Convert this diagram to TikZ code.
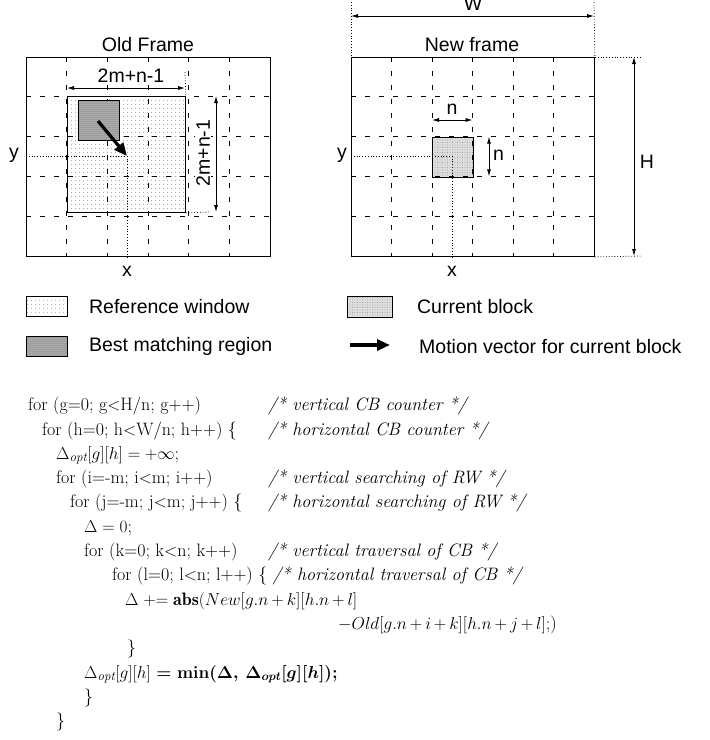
\documentclass[tikz,border=0pt]{standalone}
\usepackage{fontspec}
\setsansfont{Liberation Sans}
\usepackage{amsmath,amssymb}
\usetikzlibrary{arrows.meta,positioning,patterns.meta,calc}
\tikzset{
  lbl/.style={font=\fontsize{19.5}{23}\selectfont\sffamily, inner sep=0pt},
  dimlbl/.style={lbl, fill=white, inner sep=1.5pt},
  frame/.style={draw, line width=0.9pt, minimum width=244, minimum height=199,
                anchor=north west, inner sep=0pt},
  gridln/.style={dash pattern=on 5pt off 9pt, line width=0.7pt},
  guide/.style={dotted, line width=0.8pt},
  dimline/.style={{Latex[length=7pt,width=4pt]}-{Latex[length=7pt,width=4pt]},
                  line width=0.8pt},
  refwin/.style={draw, line width=0.9pt, anchor=north west, inner sep=0pt,
                 preaction={fill=white}, pattern={Dots[distance=4pt,radius=0.5pt]},
                 pattern color=black!60},
  curblk/.style={draw, line width=0.9pt, anchor=north west, inner sep=0pt,
                 preaction={fill=gray!25}, pattern={Dots[distance=2.5pt,radius=0.45pt]},
                 pattern color=black!55},
  bestreg/.style={draw, line width=0.9pt, anchor=north west, inner sep=0pt,
                  preaction={fill=gray!60}, pattern={Dots[distance=2pt,radius=0.5pt]},
                  pattern color=black!70},
  mvec/.style={-{Triangle[length=13pt,width=11pt]}, line width=3.2pt},
  code/.style={font=\fontsize{18}{24.3}\selectfont, align=left,
               inner sep=0pt, anchor=north west}
}
\newcommand\cmt[1]{\textit{/* #1 */}}
\newcommand\codeln[3]{\makebox[240pt][l]{\hspace*{#1}#2}#3}
\newcommand\dopt{\Delta_{\mbox{\fontsize{13}{13}\selectfont$\mathit{opt}$}}}

\begin{document}
\begin{tikzpicture}[x=1pt, y=-1pt, node distance=21pt]
\path[fill=white, use as bounding box] (0,0) rectangle (710,740);

% old frame
\node[refwin, minimum width=118, minimum height=116] (refw) at (67,96) {};
\foreach \gx in {66.7,107.3,148,188.7,229.3}
  \draw[gridln] (\gx,57) -- (\gx,256);
\foreach \gy in {96.8,136.6,176.4,216.2}
  \draw[gridln] (26,\gy) -- (270,\gy);
\node[bestreg, minimum width=41, minimum height=40] (best) at (78,100) {};
\node[frame] (oldf) at (26,57) {};
\node[lbl] (oldt) at (148,45) {Old Frame};
\coordinate (oldp) at (127,156);
\coordinate (mvs) at (98,121);
\draw[guide] (oldf.west |- oldp) -- (oldp) -- (oldp |- oldf.south);
\draw[mvec] (mvs) -- (oldp);
\node[lbl] (oldy) at (14,155) {y};
\node[lbl] (oldx) at (127,271) {x};
% 2m+n-1 dimensions
\coordinate (dwl) at (67,88);
\coordinate (dwr) at (185,88);
\coordinate (dwx) at (185,72);
\draw[guide] (dwx) -- (refw.north east);
\draw[dimline] (dwl) -- (dwr);
\node[dimlbl] (dwt) at (131,76) {2m+n-1};
\coordinate (dht) at (216,96);
\coordinate (dhb) at (216,212);
\coordinate (dhx) at (210,212);
\draw[guide] (refw.south east) -- (dhx);
\draw[dimline] (dht) -- (dhb);
\node[dimlbl, rotate=90] (dhtxt) at (203,153) {2m+n-1};

% new frame
\node[curblk, minimum width=40.5, minimum height=40] (cblk) at (432,136.6) {};
\foreach \gx in {391.5,432,472.5,513,553.5}
  \draw[gridln] (\gx,57) -- (\gx,256);
\foreach \gy in {96.8,136.6,176.4,216.2}
  \draw[gridln] (351,\gy) -- (594,\gy);
\node[frame, minimum width=243] (newf) at (351,57) {};
\node[lbl] (newt) at (472,45) {New frame};
\coordinate (newp) at (452,156);
\draw[guide] (newf.west |- newp) -- (newp) -- (newp |- newf.south);
\node[lbl] (newy) at (342,155) {y};
\node[lbl] (newx) at (452,271) {x};
% W and H
\coordinate (wl) at (351,2);
\coordinate (wr) at (594,2);
\draw[guide] (wl) -- (newf.north west);
\draw[guide] (wr) -- (newf.north east);
\draw[dimline] ($(wl)+(0,14)$) -- ($(wr)+(0,14)$);
\node[lbl, anchor=base] (wtxt) at (473,10) {W};
\coordinate (ht) at (642,57);
\coordinate (hb) at (642,256);
\draw[guide] (newf.north east) -- (ht);
\draw[guide] (newf.south east) -- (hb);
\draw[dimline] ($(ht)+(-8,0)$) -- ($(hb)+(-8,0)$);
\node[lbl] (htxt) at (647,162) {H};
% n dimensions
\coordinate (nl) at (432,120);
\coordinate (nr) at (472.5,120);
\draw[dimline] (nl) -- (nr);
\node[lbl] (ntop) at (452,109) {n};
\coordinate (nt) at (489,136.6);
\coordinate (nb) at (489,176.4);
\draw[dimline] (nt) -- (nb);
\node[lbl, anchor=west] (nside) at (493,155) {n};

% legend
\node[refwin, minimum width=41, minimum height=20] (lgref) at (26,296) {};
\node[lbl, right=of lgref] (lgreft) {Reference window};
\node[bestreg, minimum width=41, minimum height=20] (lgbest) at (26,336) {};
\node[lbl, right=of lgbest] (lgbestt) {Best matching region};
\node[curblk, minimum width=45, minimum height=21] (lgcur) at (347,296) {};
\node[lbl, right=24pt of lgcur] (lgcurt) {Current block};
\coordinate (lgas) at (350,345);
\coordinate (lgae) at (390,345);
\draw[mvec] (lgas) -- (lgae);
\node[lbl, anchor=west] (lgmvt) at (419,347) {Motion vector for current block};

% search loops
\node[code] (loops) at (28,397) {%
\codeln{0pt}{for (g=0; g$<$H/n; g++)}{\cmt{vertical CB counter}}\\
\codeln{14pt}{for (h=0; h$<$W/n; h++) \{}{\cmt{horizontal CB counter}}\\
\hspace*{28pt}$\dopt[g][h] = +\infty$;\\
\codeln{28pt}{for (i=-m; i$<$m; i++)}{\cmt{vertical searching of RW}}\\
\codeln{42pt}{for (j=-m; j$<$m; j++) \{}{\cmt{horizontal searching of RW}}\\
\hspace*{56pt}$\Delta = 0$;\\
\codeln{56pt}{for (k=0; k$<$n; k++)}{\cmt{vertical traversal of CB}}\\
\hspace*{84pt}for (l=0; l$<$n; l++) \{\ \cmt{horizontal traversal of CB}\\
\hspace*{97pt}$\medmuskip=3mu \Delta \mathrel{{+}{=}} \mathbf{abs(}New[g.n+k][h.n+l]$\\
\hspace*{310pt}$\medmuskip=3mu -Old[g.n+i+k][h.n+j+l]$;)\\
\hspace*{99pt}\}\\
\hspace*{56pt}$\dopt[g][h]$ {\boldmath$=\mathbf{min}(\Delta,\,\Delta_{opt}[g][h])$}\textbf{;}\\
\hspace*{56pt}\}\\
\hspace*{28pt}\}};
\end{tikzpicture}
\end{document}
